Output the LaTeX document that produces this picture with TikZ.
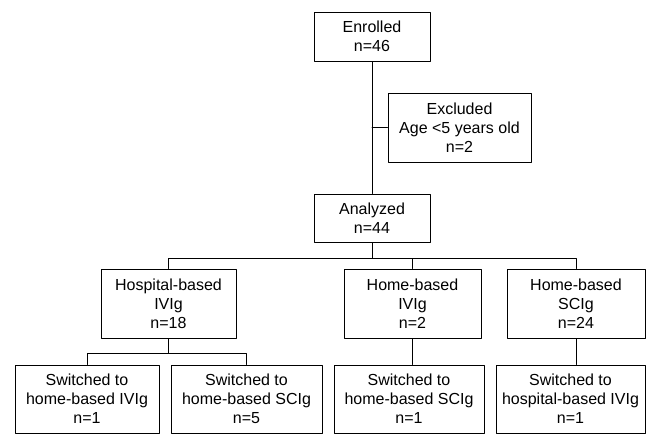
\documentclass[tikz,border=0pt]{standalone}
\usepackage{fontspec}
\setmainfont{Liberation Sans}
\usetikzlibrary{positioning}

\tikzset{
	flowbox/.style={draw, line width=1pt, align=center, inner sep=2pt,
		font=\fontsize{16}{19}\selectfont},
	link/.style={line width=1pt}
}

\begin{document}
\begin{tikzpicture}[line cap=round,line join=round,x=1pt,y=-1pt]
	\useasboundingbox (0,0) rectangle (646,434);
	
	% top part
	\node [flowbox, minimum width=116pt, minimum height=49pt] (enrolled) at (372,36.5) {Enrolled\\n=46};
	\node [flowbox, minimum width=143pt, minimum height=69pt] (excluded) at (459.5,127.5) {Excluded\\Age <5 years old\\n=2};
	\node [flowbox, minimum width=116pt, minimum height=48pt] (analyzed) at (372,218) {Analyzed\\n=44};
	
	% groups
	\node [flowbox, minimum width=135pt, minimum height=69pt] (hospivig) at (168.5,303.5) {Hospital-based\\IVIg\\n=18};
	\node [flowbox, minimum width=137pt, minimum height=69pt] (homeivig) at (412.5,303.5) {Home-based\\IVIg\\n=2};
	\node [flowbox, minimum width=138pt, minimum height=69pt] (homescig) at (576,303.5) {Home-based\\SCIg\\n=24};
	
	% switches
	\node [flowbox, minimum width=144pt, minimum height=68pt] (swa) at (87,399) {Switched to\\home-based IVIg\\n=1};
	\node [flowbox, minimum width=151pt, minimum height=68pt] (swb) at (246.5,399) {Switched to\\home-based SCIg\\n=5};
	\node [flowbox, minimum width=150pt, minimum height=68pt] (swc) at (409,399) {Switched to\\home-based SCIg\\n=1};
	\node [flowbox, minimum width=149pt, minimum height=68pt] (swd) at (570.5,399) {Switched to\\hospital-based IVIg\\n=1};
	
	\coordinate (excl) at (372,127.5);
	\coordinate (split) at (372,258);
	\coordinate (hsplit) at (168.5,353);
	
	\draw [link] (enrolled) -- (analyzed);
	\draw [link] (excl) -- (excluded);
	
	\draw [link] (analyzed) -- (split);
	\draw [link] (split) -| (hospivig);
	\draw [link] (split) -| (homeivig);
	\draw [link] (split) -| (homescig);
	
	\draw [link] (hospivig) -- (hsplit);
	\draw [link] (hsplit) -| (swa);
	\draw [link] (hsplit) -| (swb);
	\draw [link] (homeivig) -- (swc.north -| homeivig);
	\draw [link] (homescig) -- (swd.north -| homescig);
\end{tikzpicture}
\end{document}
